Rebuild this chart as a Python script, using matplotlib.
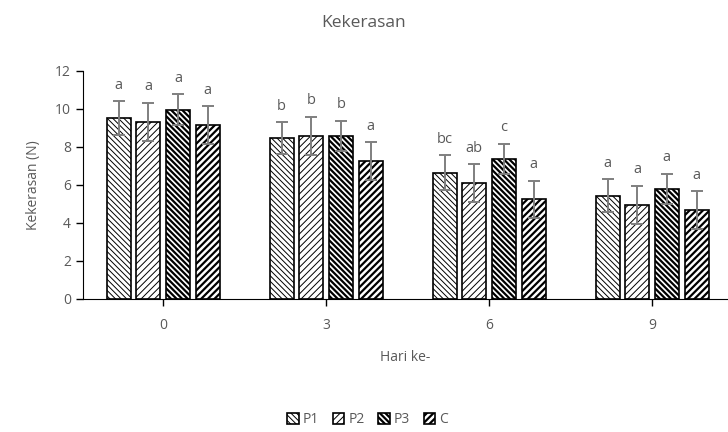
import matplotlib
matplotlib.use("Agg")
import matplotlib.pyplot as plt
import numpy as np

# data
days = ["0", "3", "6", "9"]
series = ["P1", "P2", "P3", "C"]
p1 = [9.53, 8.47, 6.63, 5.43]
p2 = [9.33, 8.58, 6.08, 4.96]
p3 = [9.96, 8.58, 7.36, 5.78]
c = [9.14, 7.27, 5.24, 4.66]
p1_err = [0.89, 0.82, 0.92, 0.88]
p2_err = [1.00, 1.01, 1.00, 1.00]
p3_err = [0.83, 0.80, 0.81, 0.81]
c_err = [1.00, 0.99, 0.98, 1.00]
p1_lab = ["a", "b", "bc", "a"]
p2_lab = ["a", "b", "ab", "a"]
p3_lab = ["a", "b", "c", "a"]
c_lab = ["a", "a", "a", "a"]

grey = "#595959"
plt.rcParams["font.family"] = ["Open Sans", "DejaVu Sans"]
plt.rcParams["font.size"] = 9

values = [p1, p2, p3, c]
errors = [p1_err, p2_err, p3_err, c_err]
letters = [p1_lab, p2_lab, p3_lab, c_lab]
hatches = ["\\" * 6, "/" * 5, "\\" * 6, "/" * 5]
hatch_lw = [0.7, 0.7, 1.6, 1.6]

fig = plt.figure(figsize=(7.28, 4.32), dpi=100)
ax = fig.add_axes([0.1135, 0.308, 0.8865, 0.528])

x = np.arange(len(days))
pitch = 0.182
width = 0.147

for i, name in enumerate(series):
    pos = x + (i - 1.5) * pitch
    bars = ax.bar(pos, values[i], width, color="white", edgecolor="black",
                  linewidth=1.2, hatch=hatches[i], label=name, zorder=2)
    for b in bars:
        if hasattr(b, "set_hatch_linewidth"):
            b.set_hatch_linewidth(hatch_lw[i])
    ax.errorbar(pos, values[i], yerr=errors[i], fmt="none", ecolor="#7f7f7f",
                elinewidth=1.4, capsize=4, capthick=1.4, zorder=3)
    for xp, v, e, t in zip(pos, values[i], errors[i], letters[i]):
        ax.annotate(t, (xp, v + e), xytext=(0, 6), textcoords="offset points",
                    ha="center", va="bottom", color=grey, fontsize=10.5)

ax.set_xlim(-0.494, 3.466)
ax.set_ylim(0, 12)
ax.set_yticks(range(0, 13, 2))
ax.set_xticks(x)
ax.set_xticklabels(days)
ax.spines["top"].set_visible(False)
ax.spines["right"].set_visible(False)
ax.spines["left"].set_color("black")
ax.spines["bottom"].set_color("black")
ax.tick_params(axis="both", colors="black", labelcolor=grey, labelsize=10,
               length=5, width=1)
ax.tick_params(axis="x", pad=9)
ax.set_xlabel("Hari ke-", color=grey, fontsize=10, labelpad=12)
ax.set_ylabel("Kekerasan (N)", color=grey, fontsize=10, labelpad=10)

fig.suptitle("Kekerasan", x=0.5, y=0.965, color=grey, fontsize=12.5)

leg = fig.legend(loc="center", bbox_to_anchor=(0.505, 0.028), ncol=4,
                 frameon=False, handlelength=0.8, handleheight=0.8,
                 handletextpad=0.3, columnspacing=1.0, fontsize=10)
for t in leg.get_texts():
    t.set_color(grey)
for h, lw in zip(leg.legend_handles, hatch_lw):
    if hasattr(h, "set_hatch_linewidth"):
        h.set_hatch_linewidth(lw)

fig.savefig("out.png", dpi=100)
